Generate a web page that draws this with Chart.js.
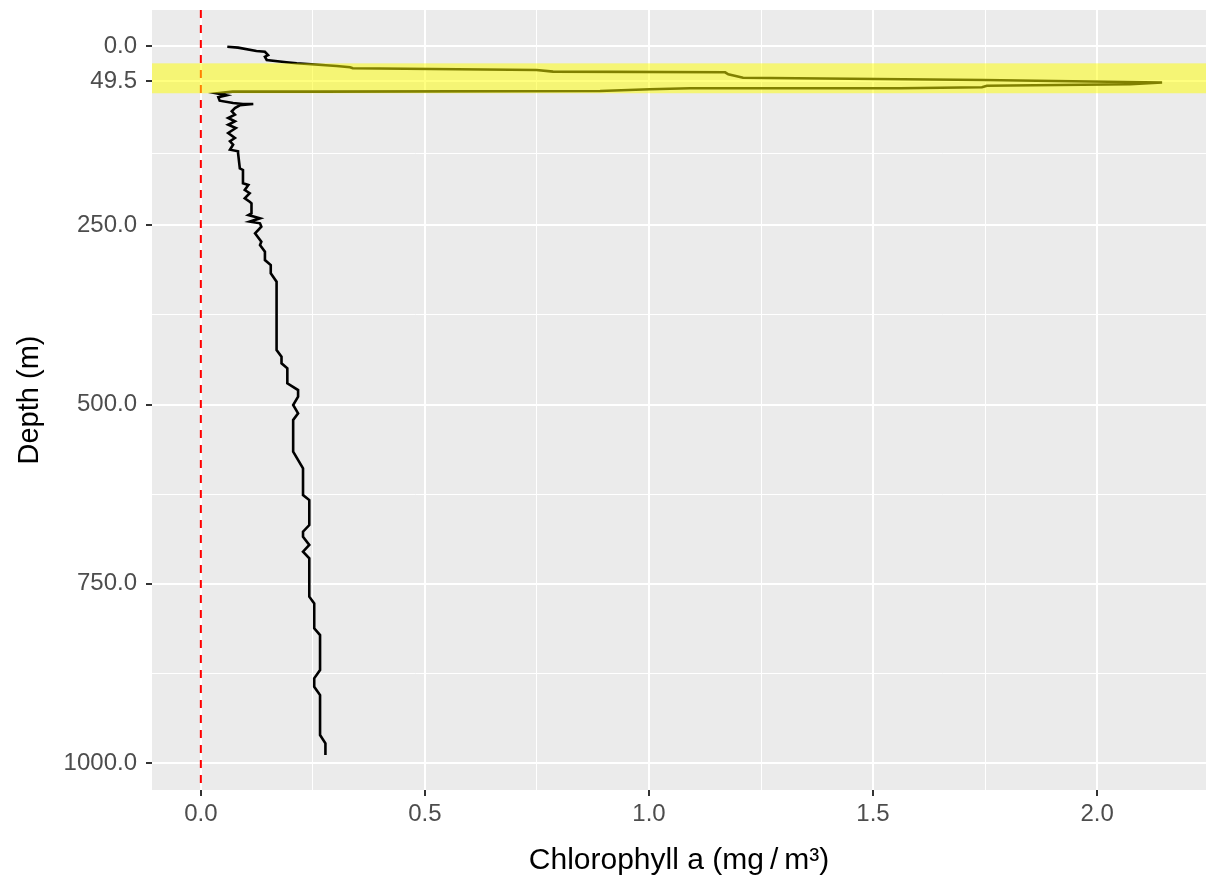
<!DOCTYPE html>
<html>
<head>
<meta charset="utf-8">
<script src="https://cdn.jsdelivr.net/npm/chart.js@4/dist/chart.umd.min.js"></script>
<style>
  html, body { margin: 0; padding: 0; background: #fff; }
  canvas { display: block; }
</style>
</head>
<body>
<canvas id="chl" width="1206" height="881"></canvas>
<script>
// profile: depth (m) and chlorophyll a (mg/m3), in path order
const depth = [
  1.0, 2.3, 7.0, 8.0, 12.6, 14.9, 19.5, 22.7, 24.1, 27.9,
  29.7, 31.1, 33.5, 35.8, 36.7, 39.5, 44.2, 47.4, 51.0, 53.4,
  55.4, 57.6, 59.0, 59.0, 60.4, 62.8, 63.7, 63.7, 66.0, 68.8,
  71.5, 76.3, 79.5, 80.9, 80.9, 82.7, 86.5, 91.1, 95.8, 100.4,
  105.0, 109.8, 114.4, 121.3, 128.3, 132.9, 137.7, 144.6, 146.9, 149.2,
  170.6, 172.9, 191.5, 193.9, 200.8, 205.4, 212.4, 217.2, 219.4, 233.3,
  235.7, 240.3, 245.0, 247.3, 252.0, 261.2, 272.9, 277.5, 286.9, 298.5,
  305.4, 317.0, 328.7, 424.0, 433.3, 442.5, 449.5, 470.4, 479.8, 489.1,
  500.7, 512.3, 521.6, 565.8, 589.0, 626.2, 633.2, 668.1, 677.4, 684.4,
  695.9, 705.3, 714.5, 768.0, 777.3, 812.1, 821.5, 870.3, 881.9, 893.6,
  905.2, 961.0, 972.5, 988.8
];
const chl = [
  0.059, 0.083, 0.124, 0.143, 0.150, 0.143, 0.147, 0.191, 0.214, 0.303,
  0.333, 0.339, 0.749, 0.786, 1.170, 1.177, 1.210, 1.746, 2.145, 2.074,
  1.754, 1.743, 1.560, 1.092, 1.002, 0.891, 0.266, 0.071, 0.035, 0.057,
  0.039, 0.042, 0.072, 0.094, 0.117, 0.087, 0.076, 0.069, 0.076, 0.061,
  0.076, 0.061, 0.078, 0.061, 0.076, 0.065, 0.072, 0.065, 0.083, 0.083,
  0.087, 0.094, 0.094, 0.106, 0.098, 0.109, 0.098, 0.109, 0.113, 0.113,
  0.106, 0.132, 0.109, 0.132, 0.135, 0.121, 0.135, 0.132, 0.143, 0.143,
  0.156, 0.156, 0.169, 0.169, 0.180, 0.180, 0.193, 0.193, 0.217, 0.217,
  0.206, 0.217, 0.206, 0.206, 0.228, 0.228, 0.242, 0.242, 0.228, 0.228,
  0.242, 0.228, 0.242, 0.242, 0.253, 0.253, 0.266, 0.266, 0.253, 0.253,
  0.266, 0.266, 0.278, 0.278
];
const mldDepth = 49.5;
const mldBand = [24.2, 65.9];
const xMajorTicks = [0, 0.5, 1, 1.5, 2];
const xMinorTicks = [0.25, 0.75, 1.25, 1.75];
const yMajorTicks = [0, mldDepth, 250, 500, 750, 1000];
const yMinorTicks = [149.75, 375, 625, 875];
const xRange = [-0.109, 2.243];
const yRange = [-50.2, 1037.6];

const FONT = "'Liberation Sans', Arial, Helvetica, sans-serif";
const profile = depth.map((d, i) => ({ x: chl[i], y: d }));
const zeroLine = [{ x: 0, y: yRange[0] }, { x: 0, y: yRange[1] }];

const isMinor = (list, v) => list.some(m => Math.abs(m - v) < 1e-6);

function makeTicks(major, minor) {
  return scale => {
    scale.ticks = major.concat(minor).sort((a, b) => a - b).map(v => ({ value: v }));
  };
}

const panelBg = {
  id: 'panelBg',
  beforeDraw(chart) {
    const { ctx, chartArea: a } = chart;
    ctx.save();
    ctx.fillStyle = '#EBEBEB';
    ctx.fillRect(a.left, a.top, a.right - a.left, a.bottom - a.top);
    ctx.restore();
  }
};

// translucent yellow band around the mixed layer depth, drawn over the line
const mldShade = {
  id: 'mldShade',
  afterDatasetsDraw(chart) {
    const { ctx, chartArea: a, scales: { y } } = chart;
    const y1 = y.getPixelForValue(mldBand[0]);
    const y2 = y.getPixelForValue(mldBand[1]);
    ctx.save();
    ctx.fillStyle = 'rgba(255,255,0,0.5)';
    ctx.fillRect(a.left, Math.min(y1, y2), a.right - a.left, Math.abs(y2 - y1));
    ctx.restore();
  }
};

new Chart(document.getElementById('chl'), {
  type: 'scatter',
  data: {
    datasets: [
      {
        data: zeroLine,
        showLine: true,
        borderColor: '#FF0000',
        borderWidth: 2,
        borderDash: [8, 7],
        pointRadius: 0
      },
      {
        data: profile,
        showLine: true,
        borderColor: '#000000',
        borderWidth: 2.6,
        pointRadius: 0,
        tension: 0
      }
    ]
  },
  options: {
    responsive: false,
    animation: false,
    layout: { padding: { top: 10, right: 0, left: 0, bottom: 0 } },
    plugins: { legend: { display: false }, tooltip: { enabled: false } },
    scales: {
      x: {
        type: 'linear',
        min: xRange[0],
        max: xRange[1],
        afterBuildTicks: makeTicks(xMajorTicks, xMinorTicks),
        afterFit: s => { s.height = 91; s.paddingLeft = 0; s.paddingRight = 0; },
        border: { display: false },
        grid: {
          color: '#FFFFFF',
          lineWidth: c => isMinor(xMinorTicks, c.tick.value) ? 1 : 2,
          tickColor: c => isMinor(xMinorTicks, c.tick.value) ? 'rgba(0,0,0,0)' : '#333333',
          tickWidth: 2,
          tickLength: 6
        },
        ticks: {
          autoSkip: false,
          maxRotation: 0,
          padding: 4,
          color: '#4D4D4D',
          font: { family: FONT, size: 24 },
          callback: v => isMinor(xMinorTicks, v) ? '' : v.toFixed(1)
        },
        title: {
          display: true,
          text: 'Chlorophyll a (mg\u2009/\u2009m³)',
          color: '#000000',
          font: { family: FONT, size: 30 },
          padding: { top: 0, bottom: 2 }
        }
      },
      y: {
        type: 'linear',
        reverse: true,
        min: yRange[0],
        max: yRange[1],
        afterBuildTicks: makeTicks(yMajorTicks, yMinorTicks),
        afterFit: s => { s.width = 152; s.paddingTop = 0; s.paddingBottom = 0; },
        border: { display: false },
        grid: {
          color: '#FFFFFF',
          lineWidth: c => isMinor(yMinorTicks, c.tick.value) ? 1 : 2,
          tickColor: c => isMinor(yMinorTicks, c.tick.value) ? 'rgba(0,0,0,0)' : '#333333',
          tickWidth: 2,
          tickLength: 6
        },
        ticks: {
          autoSkip: false,
          padding: 9,
          color: '#4D4D4D',
          font: { family: FONT, size: 24 },
          callback: v => isMinor(yMinorTicks, v) ? '' : v.toFixed(1)
        },
        title: {
          display: true,
          text: 'Depth (m)',
          color: '#000000',
          font: { family: FONT, size: 29 },
          padding: { top: 13, bottom: 0 }
        }
      }
    }
  },
  plugins: [panelBg, mldShade]
});
</script>
</body>
</html>
